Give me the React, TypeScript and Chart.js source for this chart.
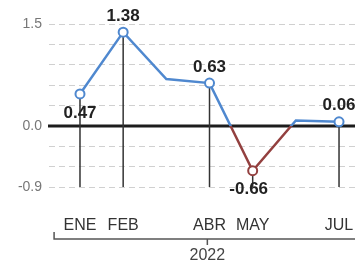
import React, { useEffect, useRef } from "react";
import { Chart, registerables } from "chart.js";
Chart.register(...registerables);

const months = ["ENE", "FEB", "MAR", "ABR", "MAY", "JUN", "JUL"];
const tickLabels = ["ENE", "FEB", "", "ABR", "MAY", "", "JUL"];
const values = [0.47, 1.38, 0.69, 0.63, -0.66, 0.08, 0.06];
const labelled = [true, true, false, true, true, false, true];
const valueLabels = ["0.47", "1.38", "", "0.63", "-0.66", "", "0.06"];
const labelBelow = [true, false, false, false, true, false, false];
const yTicksShown = [1.5, 0, -0.9];
const yearLabel = "2022";

const BLUE = "#4f88cf";
const RED = "#93403f";

const overlay = {
  id: "overlay",
  beforeDatasetsDraw(chart: any) {
    const { ctx, chartArea, scales } = chart;
    const y = scales.y;
    ctx.save();
    const y0 = y.getPixelForValue(0);
    ctx.strokeStyle = "#1c1c1c";
    ctx.lineWidth = 3;
    ctx.beginPath();
    ctx.moveTo(chartArea.left, y0);
    ctx.lineTo(chartArea.right, y0);
    ctx.stroke();
    const meta = chart.getDatasetMeta(0);
    ctx.strokeStyle = "#333";
    ctx.lineWidth = 1.5;
    meta.data.forEach((pt: any, i: number) => {
      if (!labelled[i]) return;
      ctx.beginPath();
      ctx.moveTo(pt.x, pt.y);
      ctx.lineTo(pt.x, chartArea.bottom);
      ctx.stroke();
    });
    ctx.restore();
  },
  afterDatasetsDraw(chart: any) {
    const { ctx } = chart;
    const meta = chart.getDatasetMeta(0);
    ctx.save();
    ctx.font = "bold 17px 'Liberation Sans', Arial, sans-serif";
    ctx.fillStyle = "#222";
    ctx.textAlign = "center";
    ctx.textBaseline = "middle";
    meta.data.forEach((pt: any, i: number) => {
      if (!valueLabels[i]) return;
      const dy = labelBelow[i] ? 19 : -16;
      const dx = valueLabels[i].startsWith("-") ? -4 : 0;
      ctx.fillText(valueLabels[i], pt.x + dx, pt.y + dy);
    });
    ctx.restore();
  },
  afterDraw(chart: any) {
    const { ctx, chartArea, scales } = chart;
    const x = scales.x;
    ctx.save();
    const by = chartArea.bottom + 52;
    const left = x.getPixelForValue(-0.6);
    const mid = x.getPixelForValue(2.95);
    ctx.strokeStyle = "#555";
    ctx.lineWidth = 1.5;
    ctx.beginPath();
    ctx.moveTo(left, by - 7);
    ctx.lineTo(left, by);
    ctx.lineTo(chart.width, by);
    ctx.moveTo(mid, by);
    ctx.lineTo(mid, by + 6);
    ctx.stroke();
    ctx.font = "16px 'Liberation Sans', Arial, sans-serif";
    ctx.fillStyle = "#444";
    ctx.textAlign = "center";
    ctx.textBaseline = "middle";
    ctx.fillText(yearLabel, mid, by + 17);
    ctx.restore();
  },
};

export default function App() {
  const ref = useRef<HTMLCanvasElement>(null);
  useEffect(() => {
    if (!ref.current) return;
    const chart = new Chart(ref.current, {
      type: "line",
      data: {
        datasets: [
          {
            label: "Inflación",
            data: values.map((v, i) => ({ x: i, y: v })),
            borderColor: (c: any) => {
              const ch = c.chart;
              const area = ch.chartArea;
              if (!area) return BLUE;
              const y0 = ch.scales.y.getPixelForValue(0);
              const g = ch.ctx.createLinearGradient(0, area.top, 0, area.bottom);
              const s = Math.min(1, Math.max(0, (y0 - area.top) / (area.bottom - area.top)));
              g.addColorStop(0, BLUE);
              g.addColorStop(s, BLUE);
              g.addColorStop(s, RED);
              g.addColorStop(1, RED);
              return g;
            },
            borderWidth: 2.5,
            tension: 0,
            pointRadius: labelled.map((l) => (l ? 4.5 : 0)),
            pointBackgroundColor: "#fff",
            pointBorderColor: values.map((v) => (v < 0 ? RED : BLUE)),
            pointBorderWidth: 2,
          },
        ],
      },
      options: {
        animation: false,
        responsive: false,
        layout: { autoPadding: false, padding: { top: 24, right: 0, left: 0, bottom: 0 } },
        plugins: { legend: { display: false }, tooltip: { enabled: false } },
        scales: {
          x: {
            type: "linear",
            min: -0.741,
            max: 6.37,
            afterFit: (s: any) => {
              s.height = 80;
              s.paddingLeft = 0;
              s.paddingRight = 0;
            },
            afterBuildTicks: (s: any) => {
              s.ticks = months.map((_, i) => ({ value: i }));
            },
            grid: { display: false, drawTicks: false },
            border: { display: false },
            ticks: {
              autoSkip: false,
              maxRotation: 0,
              padding: 29,
              color: "#333",
              font: { family: "'Liberation Sans', Arial, sans-serif", size: 16 },
              callback: (v: any) => tickLabels[Math.round(Number(v))] ?? "",
            },
          },
          y: {
            min: -0.9,
            max: 1.5,
            afterFit: (s: any) => {
              s.width = 48;
            },
            ticks: {
              stepSize: 0.3,
              padding: 6,
              color: "#777",
              font: { family: "'Liberation Sans', Arial, sans-serif", size: 14 },
              callback: (v: any) => {
                const n = Number(v);
                return yTicksShown.some((t) => Math.abs(t - n) < 1e-6) ? n.toFixed(1) : "";
              },
            },
            grid: { color: "#d0d0d0", lineWidth: 1, drawTicks: false },
            border: { display: true, color: "rgba(0,0,0,0)", dash: [6, 4] },
          },
        },
      },
      plugins: [overlay],
    });
    return () => chart.destroy();
  }, []);
  return (
    <div style={{ position: "fixed", left: 0, top: 0, width: 355, height: 267, background: "#fff" }}>
      <canvas ref={ref} width={355} height={267} />
    </div>
  );
}
